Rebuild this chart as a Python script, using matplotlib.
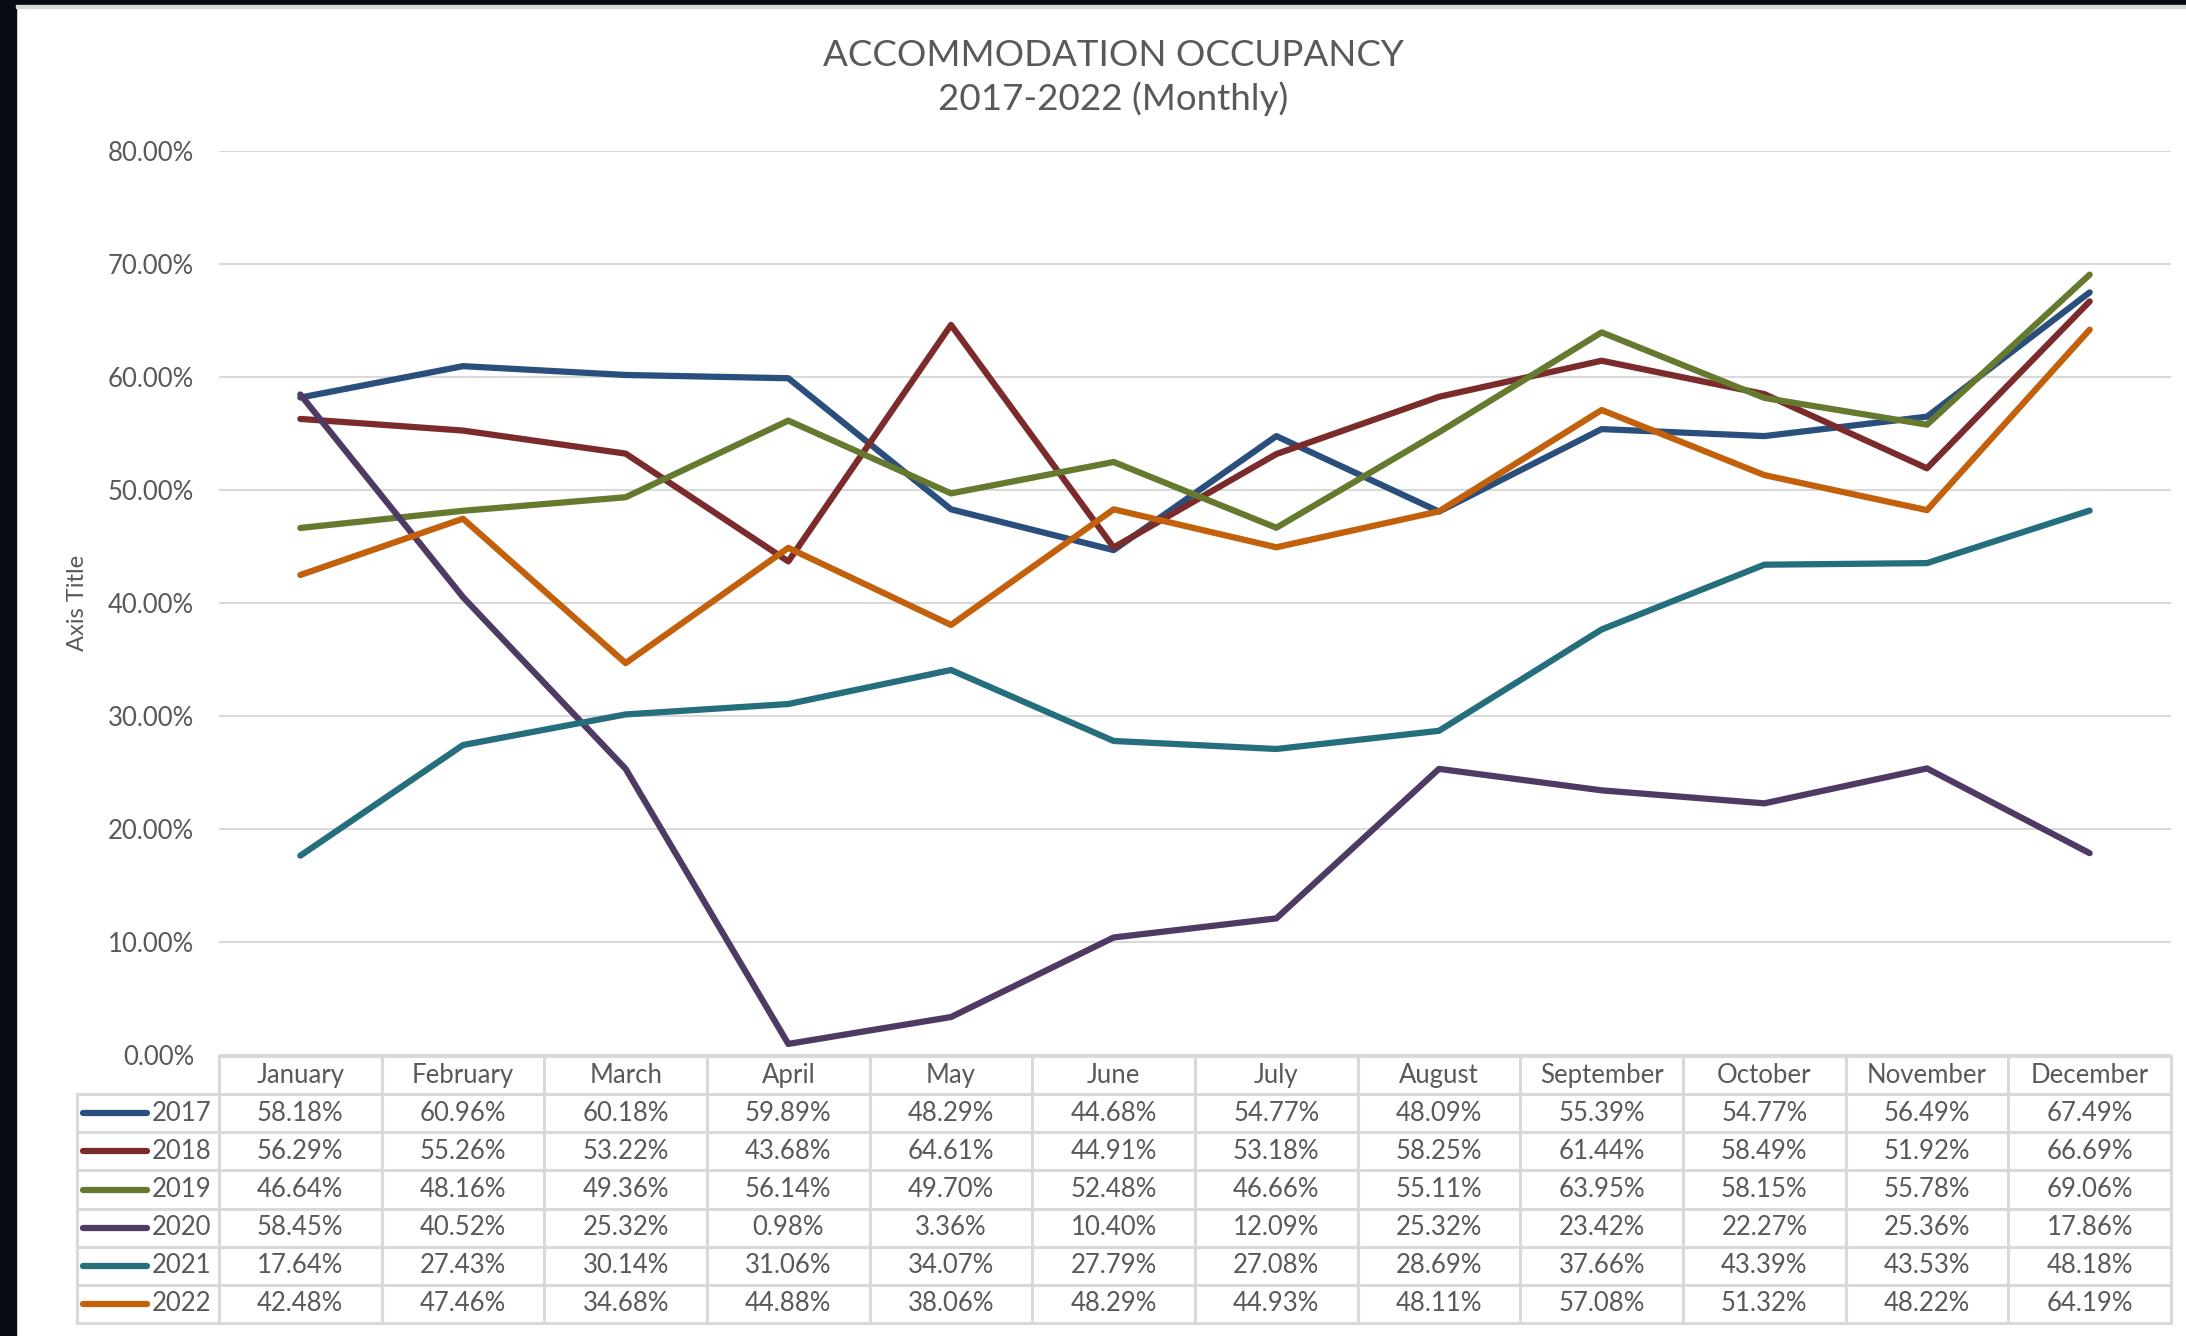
import matplotlib
matplotlib.use("Agg")
import matplotlib.pyplot as plt
from matplotlib.patches import Rectangle
from matplotlib.ticker import PercentFormatter

plt.rcParams['font.family'] = ['Lato', 'DejaVu Sans']

# Data (occupancy, %)
months = ["January", "February", "March", "April", "May", "June", "July",
          "August", "September", "October", "November", "December"]
years = ["2017", "2018", "2019", "2020", "2021", "2022"]
occ_2017 = [58.18, 60.96, 60.18, 59.89, 48.29, 44.68, 54.77, 48.09, 55.39, 54.77, 56.49, 67.49]
occ_2018 = [56.29, 55.26, 53.22, 43.68, 64.61, 44.91, 53.18, 58.25, 61.44, 58.49, 51.92, 66.69]
occ_2019 = [46.64, 48.16, 49.36, 56.14, 49.70, 52.48, 46.66, 55.11, 63.95, 58.15, 55.78, 69.06]
occ_2020 = [58.45, 40.52, 25.32, 0.98, 3.36, 10.40, 12.09, 25.32, 23.42, 22.27, 25.36, 17.86]
occ_2021 = [17.64, 27.43, 30.14, 31.06, 34.07, 27.79, 27.08, 28.69, 37.66, 43.39, 43.53, 48.18]
occ_2022 = [42.48, 47.46, 34.68, 44.88, 38.06, 48.29, 44.93, 48.11, 57.08, 51.32, 48.22, 64.19]
series = [occ_2017, occ_2018, occ_2019, occ_2020, occ_2021, occ_2022]
colors = ["#2B4F7C", "#7B2B2B", "#65792F", "#4E3A62", "#256E7C", "#C2600C"]

W, H = 2186, 1336
txt = "#595959"
grid = "#D9D9D9"
fs = 18.5

fig = plt.figure(figsize=(W / 100, H / 100), dpi=100)

# dark frame strips (screenshot edge)
fig.patches.append(Rectangle((0, 0), 16 / W, 1, transform=fig.transFigure, color="#080B14", zorder=10))
fig.patches.append(Rectangle((0, 1 - 5 / H), 1, 5 / H, transform=fig.transFigure, color="#080B14", zorder=10))
fig.patches.append(Rectangle((16 / W, 1 - 8 / H), 1, 3 / H, transform=fig.transFigure, color="#D9D9D9", zorder=10))

# main plot area
left, right = 219, 2171
top, bottom = 151, 1055
ax = fig.add_axes([left / W, 1 - bottom / H, (right - left) / W, (bottom - top) / H])
x = list(range(len(months)))
for vals, c in zip(series, colors):
    ax.plot(x, [v / 100 for v in vals], color=c, lw=4.5, solid_capstyle="round",
            solid_joinstyle="round", clip_on=False, zorder=3)
ax.set_xlim(-0.5, 11.5)
ax.set_ylim(0, 0.8)
ax.set_yticks([i / 10 for i in range(9)])
ax.yaxis.set_major_formatter(PercentFormatter(1.0, decimals=2))
ax.grid(axis="y", color=grid, lw=1.5)
ax.set_axisbelow(True)
ax.set_xticks([])
for s in ax.spines.values():
    s.set_visible(False)
ax.tick_params(axis="y", length=0, pad=18, labelsize=fs, labelcolor=txt)
ax.set_ylabel("Axis Title", fontsize=17, color=txt, labelpad=14)

fig.text(1113 / W, 1 - 55 / H, "ACCOMMODATION OCCUPANCY", ha="center", va="center",
         fontsize=26.5, color=txt)
fig.text(1113 / W, 1 - 99 / H, "2017-2022 (Monthly)", ha="center", va="center",
         fontsize=26.5, color=txt)

# data table below the plot
t_left, t_top, t_bottom = 77, 1056, 1323
colw = (right - left) / 12
x0 = -0.5 - (left - t_left) / colw
tab = fig.add_axes([t_left / W, 1 - t_bottom / H, (right - t_left) / W, (t_bottom - t_top) / H])
tab.set_xlim(x0, 11.5)
tab.set_ylim(7, 0)
tab.axis("off")
lk = dict(color=grid, lw=2.2, clip_on=False, solid_capstyle="projecting")
tab.plot([-0.5, 11.5], [0, 0], **lk)
for r in range(1, 8):
    tab.plot([x0, 11.5], [r, r], **lk)
tab.plot([x0, x0], [1, 7], **lk)
for k in range(13):
    tab.plot([k - 0.5, k - 0.5], [0, 7], **lk)
for i, m in enumerate(months):
    tab.text(i, 0.5, m, ha="center", va="center", fontsize=fs, color=txt)
for r, (yr, vals, c) in enumerate(zip(years, series, colors)):
    yy = r + 1.5
    tab.plot([x0 + 6 / colw, x0 + 70 / colw], [yy, yy], color=c, lw=4.5,
             solid_capstyle="round", clip_on=False)
    tab.text(x0 + 75 / colw, yy, yr, ha="left", va="center", fontsize=fs, color=txt)
    for i, v in enumerate(vals):
        tab.text(i, yy, f"{v:.2f}%", ha="center", va="center", fontsize=fs, color=txt)

fig.savefig("out.png", dpi=100, facecolor="white")
